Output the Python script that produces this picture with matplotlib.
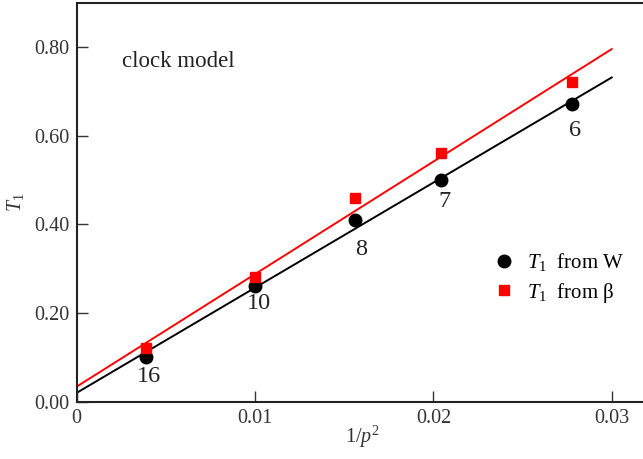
import numpy as np
import matplotlib.pyplot as plt

plt.rcParams['font.family'] = ['Liberation Serif', 'DejaVu Serif']
plt.rcParams['mathtext.fontset'] = 'custom'
plt.rcParams['mathtext.rm'] = 'Liberation Serif'
plt.rcParams['mathtext.it'] = 'Liberation Serif:italic'

# lattice size p and the two estimates of T1
p_vals = [16, 10, 8, 7, 6]
t1_w = [0.100, 0.261, 0.410, 0.500, 0.671]
t1_beta = [0.122, 0.281, 0.460, 0.561, 0.721]

# straight-line fits (endpoints at 1/p^2 = 0 and 0.03)
fit_x = [0.0, 0.03]
fit_w = [0.020, 0.731]
fit_beta = [0.034, 0.795]

# label offsets below each black point (points)
lab_dx = [1.7, 2.9, 4.3, 2.9, 2.4]
lab_dy = [-17.5, -16.5, -25.0, -19.2, -23.0]

x = 1.0 / np.array(p_vals, dtype=float) ** 2

fig = plt.figure(figsize=(6.43, 4.59), dpi=100)
ax = fig.add_axes([76.7 / 643, 1 - 401.7 / 459, (647.4 - 76.7) / 643, (401.7 - 2.5) / 459])

ax.plot(fit_x, fit_w, color='black', lw=1.4, zorder=2)
ax.plot(fit_x, fit_beta, color='#ff0000', lw=1.4, zorder=2)
ax.plot(x, t1_w, 'o', color='black', ms=9, ls='none', label=r'$\mathit{T_1}$  from W', zorder=3)
ax.plot(x, t1_beta, 's', color='#ff0000', ms=7.7, ls='none', label=r'$\mathit{T_1}$  from β', zorder=3)

for xi, yi, p, dx, dy in zip(x, t1_w, p_vals, lab_dx, lab_dy):
    ax.annotate(str(p), (xi, yi), xytext=(dx, dy), textcoords='offset points',
                ha='center', va='baseline', fontsize=17.5, color='#222222')

ax.text(0.00253, 0.755, 'clock model', fontsize=16.5, color='#222222', ha='left', va='baseline')

ax.set_xlim(0, 0.032)
ax.set_ylim(0, 0.9)
ax.set_xticks([0, 0.01, 0.02, 0.03])
ax.set_xticklabels(['0', '0.01', '0.02', '0.03'])
ax.set_yticks([0, 0.2, 0.4, 0.6, 0.8])
ax.set_yticklabels(['0.00', '0.20', '0.40', '0.60', '0.80'])
ax.tick_params(direction='in', length=8, width=1, labelsize=14.5, labelcolor='#333333', colors='#333333', pad=5)
for s in ax.spines.values():
    s.set_linewidth(1.5)
    s.set_color('#222222')

fig.text(362 / 643, 1 - 443 / 459, r'$\mathit{1/p^2}$', fontsize=14.5, color='#333333',
         ha='center', va='baseline')
fig.text(16 / 643, 1 - 202 / 459, r'$\mathit{T_1}$', fontsize=14.5, color='#333333',
         ha='center', va='center', rotation=90)

ax.legend(loc='center left', bbox_to_anchor=(494 / 643, 1 - 278 / 459), bbox_transform=fig.transFigure,
          frameon=False, fontsize=15, handletextpad=0.6, labelspacing=0.35, handlelength=1.0,
          borderaxespad=0, borderpad=0)

fig.savefig('out.png', dpi=100)
